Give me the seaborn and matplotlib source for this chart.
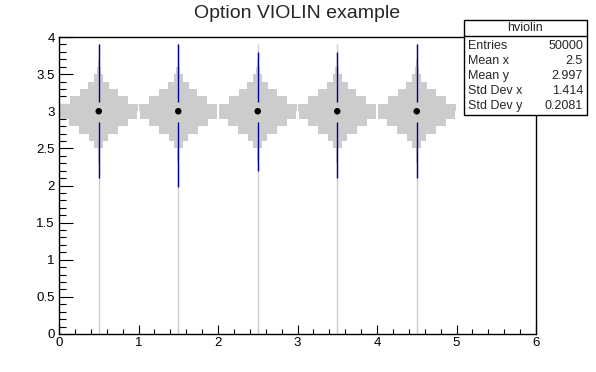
import numpy as np
import matplotlib
matplotlib.use("Agg")
import matplotlib.pyplot as plt
import seaborn as sns
from matplotlib.patches import Rectangle
from matplotlib.lines import Line2D

# --- data ---
centers = [0.5, 1.5, 2.5, 3.5, 4.5]
bin_lo = [2.3, 2.4, 2.5, 2.6, 2.7, 2.8, 2.9, 3.0, 3.1, 3.2, 3.3, 3.4, 3.5, 3.6]
# relative half-width of each y bin (1.0 = widest bin)
bin_width = [0.02, 0.03, 0.11, 0.25, 0.50, 0.76, 0.99, 1.00, 0.75, 0.49, 0.27, 0.12, 0.05, 0.01]
median = [3.0, 3.0, 3.0, 3.0, 3.0]
q1 = [2.86, 2.86, 2.86, 2.86, 2.86]
q3 = [3.13, 3.13, 3.13, 3.13, 3.13]
whisker_lo = [2.10, 1.98, 2.19, 2.10, 2.10]
whisker_hi = [3.90, 3.90, 3.80, 3.80, 3.90]
range_top = 3.9

stat_names = ["Entries", "Mean x", "Mean y", "Std Dev x", "Std Dev y"]
stat_values = ["50000", "2.5", "2.997", "1.414", "0.2081"]

# --- style ---
sns.set_style("ticks")
plt.rcParams["font.family"] = ["Liberation Sans", "DejaVu Sans"]

W, H = 596, 372
fig = plt.figure(figsize=(W / 100, H / 100), dpi=100)
ax = fig.add_axes([59 / W, (H - 334) / H, 477 / W, 297 / H])

grey = "#cccccc"
navy = "#000090"
max_half = 0.49

for c in centers:
    # thin grey line where the histogram bins are empty
    ax.vlines(c, 0, range_top, color=grey, lw=1, zorder=1)
    for lo, w in zip(bin_lo, bin_width):
        hw = w * max_half
        ax.barh(lo, 2 * hw, height=0.1, left=c - hw, align="edge",
                color=grey, edgecolor="none", zorder=2)

# whiskers (hidden inside the box)
for c, lo, hi, a, b in zip(centers, whisker_lo, whisker_hi, q1, q3):
    ax.vlines(c, lo, a, color=navy, lw=1, zorder=3)
    ax.vlines(c, b, hi, color=navy, lw=1, zorder=3)

sns.scatterplot(x=centers, y=median, ax=ax, color="black", s=22,
                edgecolor="none", zorder=4)

ax.set_xlim(0, 6)
ax.set_ylim(0, 4)
ax.set_xticks(np.arange(0, 7, 1))
ax.set_xticks(np.arange(0, 6.01, 0.2), minor=True)
ax.set_yticks(np.arange(0, 4.01, 0.5))
ax.set_yticks(np.arange(0, 4.01, 0.1), minor=True)
ax.set_xticklabels(["0", "1", "2", "3", "4", "5", "6"])
ax.set_yticklabels(["0", "0.5", "1", "1.5", "2", "2.5", "3", "3.5", "4"])
ax.tick_params(axis="both", which="both", direction="in", colors="black",
               labelsize=9.5, width=0.8)
ax.tick_params(axis="y", which="major", length=10, pad=3)
ax.tick_params(axis="y", which="minor", length=5)
ax.tick_params(axis="x", which="major", length=6.5, pad=2)
ax.tick_params(axis="x", which="minor", length=3.5)
for s in ax.spines.values():
    s.set_visible(True)
    s.set_color("black")
    s.set_linewidth(1)

fig.text(297 / W, 1 - 14 / H, "Option VIOLIN example", ha="center",
         va="center", fontsize=14)

# stats box
bx0, bx1, by0, by1, bdiv = 464, 587, 20, 115, 36
tf = fig.transFigure
fig.patches.append(Rectangle((bx0 / W, 1 - by1 / H), (bx1 - bx0) / W,
                             (by1 - by0) / H, transform=tf, facecolor="white",
                             edgecolor="black", lw=1, zorder=10))
fig.lines.append(Line2D([bx0 / W, bx1 / W], [1 - bdiv / H, 1 - bdiv / H],
                        transform=tf, color="black", lw=1, zorder=11))
fig.text((bx0 + bx1) / 2 / W, 1 - 28 / H, "hviolin", ha="center",
         va="center", fontsize=9, zorder=12)
for i, (n, v) in enumerate(zip(stat_names, stat_values)):
    yy = 1 - (46 + 15 * i) / H
    fig.text((bx0 + 4) / W, yy, n, ha="left", va="center", fontsize=9, zorder=12)
    fig.text((bx1 - 4) / W, yy, v, ha="right", va="center", fontsize=9, zorder=12)

fig.savefig("out.png", dpi=100)
